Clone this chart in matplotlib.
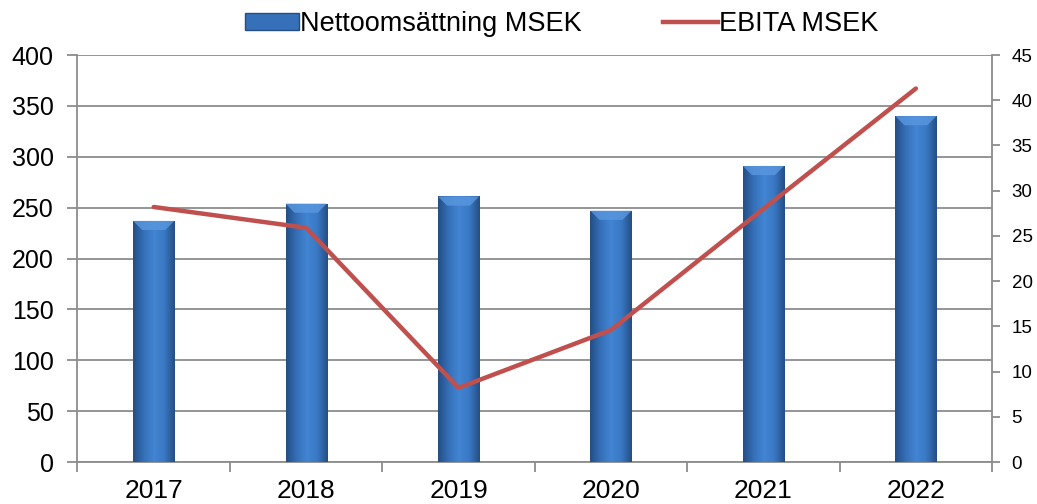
import numpy as np
import matplotlib
matplotlib.use("Agg")
import matplotlib.pyplot as plt
from matplotlib.colors import LinearSegmentedColormap
from matplotlib.patches import Patch
from matplotlib.lines import Line2D

plt.rcParams["font.family"] = ["Liberation Sans", "DejaVu Sans"]

# Data
years = ["2017", "2018", "2019", "2020", "2021", "2022"]
sales = [237, 254, 261, 247, 291, 340]      # Nettoomsättning MSEK (left axis)
ebita = [28.2, 25.9, 8.2, 14.6, 28.0, 41.3]  # EBITA MSEK (right axis)

bar_blue = "#3b78c4"
line_red = "#c0504d"
grid_grey = "#8c8c8c"

fig = plt.figure(figsize=(10.37, 5.04), dpi=100)
ax = fig.add_axes([0.0747, 0.0833, 0.8820, 0.8075])

x = np.arange(len(years))
bars = ax.bar(x, sales, width=0.27, color=bar_blue, edgecolor="none", zorder=2)

# horizontal shading so the bars look rounded like the original
shade = LinearSegmentedColormap.from_list(
    "shade", ["#244f86", "#3570b8", "#4285d3", "#3a78c4", "#244f86"])
grad = np.linspace(0, 1, 64).reshape(1, -1)
for b in bars:
    bx, bw, bh = b.get_x(), b.get_width(), b.get_height()
    im = ax.imshow(grad, cmap=shade, aspect="auto", zorder=3,
                   extent=(bx, bx + bw, 0, bh))
    im.set_clip_path(b)
    # subtle bevel on top
    ax.fill([bx, bx + bw, bx + bw * 0.78, bx + bw * 0.22],
            [bh, bh, bh - 9, bh - 9], color="#5a98e0", alpha=0.8, zorder=4, lw=0)

ax.set_xlim(-0.5, len(years) - 0.5)
ax.set_ylim(0, 400)
ax.set_yticks(np.arange(0, 401, 50))
ax.yaxis.grid(True, color=grid_grey, linewidth=1.3, zorder=0)
ax.set_axisbelow(True)

# category boundaries as ticks, labels in the middle
ax.set_xticks(np.arange(-0.5, len(years), 1))
ax.set_xticklabels([])
ax.set_xticks(x, minor=True)
ax.set_xticklabels(years, minor=True, fontsize=19)
ax.tick_params(axis="x", which="major", length=7, width=1.3, color=grid_grey)
ax.tick_params(axis="x", which="minor", length=0, pad=12)
ax.tick_params(axis="y", length=7, width=1.3, color=grid_grey, labelsize=18, pad=10)

for side in ["left", "bottom", "right"]:
    ax.spines[side].set_color(grid_grey)
    ax.spines[side].set_linewidth(1.3)
ax.spines["top"].set_visible(False)

ax2 = ax.twinx()
ax2.plot(x, ebita, color=line_red, linewidth=3.2, solid_capstyle="round", zorder=5)
ax2.set_ylim(0, 45)
ax2.set_yticks(np.arange(0, 46, 5))
ax2.tick_params(axis="y", length=6, width=1.3, color=grid_grey, labelsize=13.5, pad=8)
for side in ["left", "bottom", "right", "top"]:
    ax2.spines[side].set_visible(False)

handles = [Patch(facecolor="#3570b8", edgecolor="#244f86"),
           Line2D([], [], color=line_red, linewidth=3.2)]
fig.legend(handles, ["Nettoomsättning MSEK", "EBITA MSEK"], ncol=2,
           loc="center", bbox_to_anchor=(0.5415, 0.952), frameon=False,
           fontsize=19.5, handlelength=2.0, handleheight=0.55,
           handletextpad=0.05, columnspacing=3.0)

fig.savefig("out.png", dpi=100)
